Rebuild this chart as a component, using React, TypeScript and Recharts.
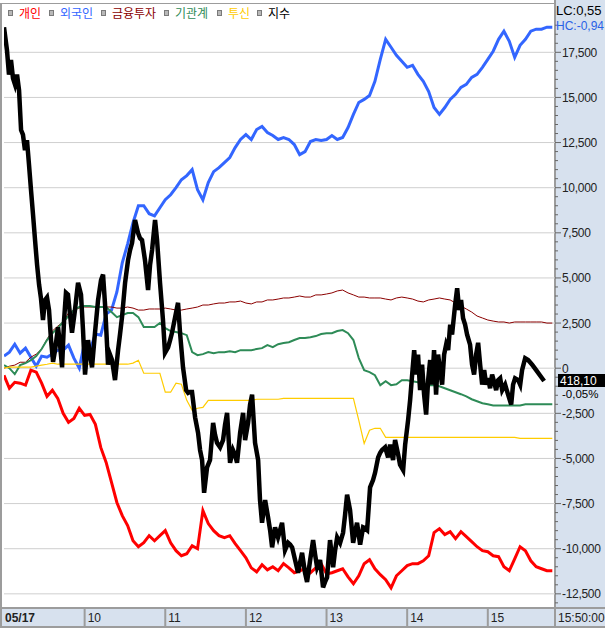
import React from 'react';
import { LineChart, Line, XAxis, YAxis, ReferenceLine } from 'recharts';

// ---- data (minutes after 09:00) ----
const flowTimes = [0, 4, 8, 12, 16, 20, 24, 28, 32, 36, 40, 44, 48, 52, 56, 60, 64, 68, 72, 76, 80, 84, 88, 92, 96, 100, 104, 108, 112, 116, 120, 124, 128, 132, 136, 140, 144, 148, 152, 156, 160, 164, 168, 172, 176, 180, 184, 188, 192, 196, 200, 204, 208, 212, 216, 220, 224, 228, 232, 236, 240, 244, 248, 252, 256, 260, 264, 268, 272, 276, 280, 284, 288, 292, 296, 300, 304, 308, 312, 316, 320, 324, 328, 332, 336, 340, 344, 348, 352, 356, 360, 364, 368, 372, 376, 380, 384, 388, 392, 396, 400, 404, 408];

// 개인
const retail = [
  -390, -1110, -780, -830, -940, -110, -220, -830, -1560, -1220,
  -1670, -2500, -3000, -2780, -2220, -2610, -2560, -3110, -4390, -5220,
  -6330, -7440, -8170, -8720, -9560, -9890, -9670, -9280, -9560, -9280,
  -9000, -9670, -10110, -10390, -10280, -9830, -10000, -7890, -8610, -9000,
  -9280, -9390, -9280, -9720, -10110, -10500, -11060, -11280, -10890, -11170,
  -11000, -11220, -10830, -11060, -11330, -11220, -11110, -11330, -11060, -10830,
  -11390, -11330, -11220, -11110, -11560, -11940, -11500, -10830, -10610, -11110,
  -11440, -11720, -12170, -11500, -11220, -10940, -10830, -10830, -10670, -10390,
  -9110, -8890, -9220, -9060, -9440, -9060, -9330, -9610, -9890, -10110,
  -10170, -10390, -10440, -11000, -11220, -10560, -9890, -10110, -10670, -11000,
  -11110, -11220, -11220,
];

// 외국인
const foreign = [
  670, 890, 1330, 830, 1110, 610, 110, 670, 610, 780,
  1000, 1000, 1280, 560, 0, 1440, 1000, 1890, 1830, 3000,
  3220, 4220, 5830, 6890, 8060, 9000, 9000, 8560, 8440, 8890,
  9330, 9610, 10000, 10440, 10670, 11000, 9890, 9330, 10280, 10890,
  11110, 11390, 11670, 12220, 12670, 12940, 12670, 13220, 13390, 13060,
  12890, 12670, 12780, 12670, 12390, 11830, 12000, 12560, 12670, 12610,
  12670, 12890, 12670, 12780, 13330, 14060, 14720, 14890, 15110, 15890,
  17110, 18220, 17780, 17330, 17000, 16670, 16780, 16280, 15890, 15330,
  14440, 14060, 14440, 14890, 15170, 15560, 15720, 16110, 16280, 16670,
  17110, 17560, 18220, 18670, 18110, 17220, 17890, 18220, 18670, 18780,
  18780, 18890, 18890,
];

// 금융투자
const finInv = [
  0, 110, 170, 330, 330, 610, 780, 1060, 1610, 2060,
  2330, 2560, 3060, 3220, 3330, 3390, 3390, 3390, 3390, 3390,
  3390, 3330, 3330, 3390, 3330, 3220, 3220, 3280, 3280, 3280,
  3330, 3280, 3220, 3220, 3280, 3330, 3390, 3500, 3500, 3560,
  3610, 3610, 3670, 3670, 3720, 3610, 3560, 3670, 3670, 3780,
  3780, 3830, 3890, 3890, 3940, 4000, 3940, 3940, 4060, 4060,
  4110, 4170, 4280, 4330, 4170, 4060, 3940, 3940, 3890, 3890,
  3890, 3830, 3780, 3890, 3940, 3890, 3830, 3720, 3670, 3780,
  3830, 3890, 3830, 3780, 3610, 3440, 3280, 3110, 2890, 2780,
  2670, 2610, 2560, 2560, 2500, 2560, 2560, 2560, 2560, 2560,
  2560, 2500, 2500,
];

// 기관계
const inst = [
  170, 0, -330, 170, 280, 440, 670, 1060, 1560, 1940,
  2220, 2560, 2890, 3220, 3390, 3440, 3440, 3390, 3390, 3390,
  3110, 2830, 2940, 3060, 3060, 2830, 2280, 2280, 2280, 2500,
  2220, 2060, 2000, 1940, 1830, 890, 720, 780, 890, 830,
  890, 890, 940, 890, 1000, 1000, 1000, 1060, 1110, 1280,
  1170, 1330, 1390, 1440, 1560, 1670, 1670, 1720, 1780, 1890,
  1940, 1940, 2060, 2110, 1940, 1560, 560, -110, -220, -390,
  -940, -720, -940, -890, -670, -670, -720, -780, -830, -940,
  -940, -1000, -1110, -1220, -1330, -1440, -1560, -1720, -1830, -1940,
  -2000, -2060, -2060, -2060, -2060, -2060, -2060, -2000, -2000, -2000,
  -2000, -2000, -2000,
];

// 투신
const trust = [
  0, 60, 60, 60, 60, 60, 110, 170, 220, 280,
  220, 220, 220, 220, 220, 220, 220, 220, 220, 220,
  220, 220, 220, 220, 280, 440, -280, -280, -280, -280,
  -1330, -1330, -830, -890, -1780, -2330, -2220, -2170, -1780, -1780,
  -1780, -1780, -1780, -1780, -1780, -1780, -1780, -1720, -1720, -1720,
  -1720, -1720, -1670, -1670, -1670, -1670, -1670, -1670, -1670, -1670,
  -1670, -1670, -1670, -1670, -1670, -1670, -2890, -4170, -3440, -3330,
  -3330, -3830, -3830, -3830, -3830, -3830, -3830, -3830, -3830, -3830,
  -3830, -3830, -3830, -3830, -3830, -3830, -3830, -3830, -3830, -3830,
  -3830, -3830, -3830, -3830, -3830, -3830, -3890, -3890, -3890, -3890,
  -3890, -3890, -3890,
];

// 지수
const indexTimes = [
  0, 2.2, 3.7, 5.2, 6.7, 8.2, 9.7, 11.2, 12.7, 14.1, 15.6, 17.1, 18.6, 20.1, 21.6, 23.1, 24.6, 26.1, 27.5, 29.0,
  30.5, 32.0, 33.5, 35.0, 36.5, 38.0, 40.2, 41.7, 43.2, 44.7, 46.1, 47.6, 49.1, 50.6, 52.8, 55.1, 57.3, 58.8, 60.3, 62.5,
  64.0, 65.5, 67.7, 70.0, 72.2, 73.7, 75.2, 77.4, 78.9, 80.4, 82.6, 84.9, 86.3, 87.8, 90.1, 92.3, 93.8, 95.3, 97.5, 99.7,
  101.2, 102.7, 104.9, 107.2, 108.7, 110.2, 112.4, 113.9, 116.1, 118.3, 119.8, 122.1, 123.6, 125.0, 127.3, 129.5, 131.0, 133.2, 135.5, 137.0,
  138.4, 139.9, 142.2, 144.4, 145.9, 147.4, 148.9, 151.1, 153.3, 155.6, 157.0, 158.5, 160.8, 163.0, 164.5, 166.0, 168.2, 170.4, 171.9, 173.4,
  175.7, 177.9, 179.4, 181.6, 183.1, 184.6, 186.8, 189.1, 190.5, 192.0, 194.3, 196.5, 198.0, 199.5, 201.7, 203.9, 205.4, 206.9, 209.1, 211.4,
  212.9, 214.4, 216.6, 218.8, 220.3, 221.8, 224.0, 225.5, 227.8, 230.0, 231.5, 233.0, 235.2, 237.4, 238.9, 240.4, 242.6, 244.9, 246.4, 247.9,
  250.1, 252.3, 253.8, 255.3, 257.5, 259.8, 261.2, 262.7, 265.0, 267.2, 268.7, 270.2, 272.4, 274.6, 276.1, 278.4, 279.9, 281.3, 283.6, 285.8,
  287.3, 289.5, 291.0, 293.3, 294.7, 297.0, 298.5, 300.7, 302.2, 303.7, 305.2, 306.7, 308.1, 309.6, 311.1, 312.6, 314.1, 315.6, 317.1, 318.6,
  320.0, 321.5, 323.0, 324.5, 326.0, 327.5, 329.0, 330.5, 332.0, 333.4, 335.7, 337.2, 338.7, 340.1, 341.6, 343.1, 344.6, 346.8, 348.3, 349.8,
  351.3, 352.8, 354.3, 355.8, 357.3, 358.8, 360.2, 361.7, 363.2, 364.7, 366.2, 367.7, 369.2, 370.7, 372.9, 375.1, 377.4, 378.8, 380.3, 382.6,
  384.1, 385.5, 387.8, 390.0, 393.0, 396.0, 398.9, 401.9,
];
const indexValues = [
  421.99, 421.74, 421.47, 421.63, 421.43, 421.36, 421.47, 421.30, 420.86, 420.81, 420.64, 420.75, 420.48, 420.20, 419.93, 419.65, 419.38, 419.16, 419.01, 418.77,
  418.99, 419.02, 418.88, 418.55, 418.31, 418.44, 418.69, 418.50, 418.25, 418.77, 419.07, 419.05, 418.83, 418.63, 418.88, 419.18, 419.05, 418.66, 418.17, 418.55,
  418.39, 418.25, 418.63, 418.99, 419.21, 419.27, 418.94, 418.28, 418.39, 418.33, 418.11, 418.44, 418.61, 418.80, 419.18, 419.43, 419.54, 419.62, 419.87, 419.73,
  419.67, 419.65, 419.43, 419.10, 419.38, 419.54, 419.87, 419.65, 419.18, 418.77, 418.41, 418.47, 418.55, 418.63, 418.80, 418.96, 418.63, 418.25, 418.00, 417.97,
  417.98, 417.98, 417.70, 417.53, 417.34, 417.23, 416.87, 417.15, 417.23, 417.64, 417.51, 417.42, 417.37, 417.45, 417.62, 417.75, 417.20, 417.34, 417.29, 417.20,
  417.53, 417.75, 417.45, 417.64, 417.84, 417.95, 417.42, 417.23, 416.79, 416.54, 416.79, 416.60, 416.46, 416.27, 416.49, 416.38, 416.46, 416.54, 416.24, 416.32,
  416.30, 416.27, 416.13, 415.99, 416.10, 416.21, 415.99, 415.89, 416.13, 416.35, 416.19, 416.05, 416.13, 415.83, 415.89, 415.94, 416.35, 416.05, 416.24, 416.38,
  416.32, 416.43, 416.63, 416.85, 416.68, 416.32, 416.43, 416.54, 416.30, 416.49, 416.48, 416.46, 416.93, 417.01, 417.09, 417.26, 417.31, 417.34, 417.37, 417.26,
  417.40, 417.23, 417.45, 417.29, 417.18, 417.12, 417.40, 417.67, 417.89, 418.17, 418.44, 418.17, 418.39, 418.00, 418.28, 417.95, 417.73, 418.11, 418.33, 418.06,
  418.44, 417.95, 418.39, 418.22, 418.06, 418.39, 418.50, 418.44, 418.72, 418.61, 418.94, 419.12, 418.88, 418.99, 418.79, 418.72, 418.61, 418.50, 418.28, 418.17,
  418.39, 418.52, 418.28, 418.06, 418.22, 418.06, 418.13, 418.02, 418.17, 418.09, 418.00, 418.11, 418.13, 418.00, 418.06, 417.95, 417.84, 418.06, 418.13, 418.11,
  418.06, 418.22, 418.35, 418.33, 418.28, 418.22, 418.16, 418.10,
];

const seriesNames = ['개인', '외국인', '금융투자', '기관계', '투신', '지수'];
const seriesColors = ['#ff0000', '#3366ff', '#8b0000', '#2e8b57', '#ffcc00', '#000000'];

const hourTicks = [0, 60, 120, 180, 240, 300, 360, 410];
const hourLabels = ['05/17', '10', '11', '12', '13', '14', '15', '15:50:00'];
const flowMajorTicks = [-12500, -10000, -7500, -5000, -2500, 0, 2500, 5000, 7500, 10000, 12500, 15000, 17500];
const flowMinorTicks = Array.from({ length: 65 }, (_, i) => -13000 + i * 500);

const lowText = 'LC:0,55';
const highText = 'HC:-0,94';
const changeText = '-0,05%';

// ---- layout ----
const W = 605;
const H = 631;
const PLOT_LEFT = 4;
const PLOT_RIGHT = 555;
const PLOT_TOP = 22;
const PLOT_BOTTOM = 608;
const PANEL = '#d7e1ee';
const BORDER = '#9c9c9c';
const NUM_FONT = '"Liberation Sans", Arial, sans-serif';
const KR_FONT = '"Noto Sans CJK KR", "Noto Sans", sans-serif';

const flowDomain: [number, number] = [-13285, 19179];
const indexDomain: [number, number] = [415.603, 422.049];

const flowData = flowTimes.map((t, i) => ({
  t,
  retail: retail[i],
  foreign: foreign[i],
  finInv: finInv[i],
  inst: inst[i],
  trust: trust[i],
}));
const indexData = indexTimes.map((t, i) => ({ t, idx: indexValues[i] }));
const lastIndex = indexValues[indexValues.length - 1];

const legendX = [8, 49, 101, 164, 217, 257];

function XTick(props: any) {
  const { x, payload } = props;
  const v = payload.value;
  const label = hourLabels[hourTicks.indexOf(v)];
  if (v === 0) {
    return (
      <text x={x + 1} y={622} fontSize={12} fontWeight="bold" fill="#222" fontFamily={NUM_FONT}>
        {label}
      </text>
    );
  }
  return (
    <g>
      <line x1={x} x2={x} y1={PLOT_BOTTOM} y2={627} stroke={BORDER} strokeWidth={2} />
      <text x={x + 3} y={622} fontSize={12} fill="#222" fontFamily={NUM_FONT}>
        {label}
      </text>
    </g>
  );
}

function YTick(props: any) {
  const { y, payload } = props;
  const v = payload.value;
  const major = v % 2500 === 0;
  return (
    <g>
      <line x1={PLOT_RIGHT} x2={PLOT_RIGHT + (major ? 6 : 3)} y1={y} y2={y} stroke="#666" strokeWidth={1} />
      {major && (
        <text x={PLOT_RIGHT + 7} y={y + 4.5} fontSize={12} fill="#222" fontFamily={NUM_FONT} letterSpacing={-0.3}>
          {v.toLocaleString('en-US')}
        </text>
      )}
    </g>
  );
}

function IndexTag(props: any) {
  const vb = props.viewBox || {};
  const y = vb.y ?? 0;
  return (
    <g>
      <rect x={PLOT_RIGHT + 3} y={y - 7} width={50} height={13} fill="#000" />
      <text x={PLOT_RIGHT + 5} y={y + 4} fontSize={12} fill="#fff" fontFamily={NUM_FONT}>
        {lastIndex.toFixed(2).replace('.', ',')}
      </text>
      <text x={PLOT_RIGHT + 7} y={y + 17} fontSize={11.5} fill="#000" fontFamily={NUM_FONT}>
        {changeText}
      </text>
    </g>
  );
}

export default function App() {
  return (
    <div
      style={{
        position: 'absolute',
        left: 0,
        top: 0,
        width: W,
        height: H,
        background: '#fff',
        overflow: 'hidden',
        fontFamily: NUM_FONT,
      }}
    >
      {/* panels */}
      <div style={{ position: 'absolute', left: PLOT_RIGHT, top: 0, width: W - PLOT_RIGHT, height: PLOT_BOTTOM, background: PANEL }} />
      <div style={{ position: 'absolute', left: 0, top: PLOT_BOTTOM, width: W, height: 19, background: PANEL }} />
      {/* borders */}
      <div style={{ position: 'absolute', left: PLOT_RIGHT - 1, top: 0, width: 2, height: PLOT_BOTTOM, background: BORDER }} />
      <div style={{ position: 'absolute', left: 0, top: PLOT_BOTTOM - 1, width: W, height: 2, background: BORDER }} />
      <div style={{ position: 'absolute', left: 0, top: 626, width: W, height: 2, background: BORDER }} />
      <div style={{ position: 'absolute', left: 0, top: 3, width: 2, height: 624, background: BORDER }} />
      <div style={{ position: 'absolute', left: 0, top: 3, width: PLOT_RIGHT, height: 1, background: BORDER }} />

      <div style={{ position: 'absolute', left: 0, top: 0 }}>
        <LineChart width={W} height={H} margin={{ top: PLOT_TOP, right: 0, bottom: 0, left: PLOT_LEFT }}>
          <XAxis
            dataKey="t"
            type="number"
            domain={[0, 410]}
            ticks={hourTicks}
            interval={0}
            height={H - PLOT_BOTTOM}
            axisLine={false}
            tickLine={false}
            tick={<XTick />}
            allowDataOverflow
          />
          <YAxis
            yAxisId="flow"
            orientation="right"
            width={W - PLOT_RIGHT}
            domain={flowDomain}
            ticks={flowMinorTicks}
            interval={0}
            axisLine={false}
            tickLine={false}
            tick={<YTick />}
            allowDataOverflow
          />
          <YAxis yAxisId="idx" orientation="left" hide width={0} domain={indexDomain} allowDataOverflow />
          {flowMajorTicks.map((v) => (
            <ReferenceLine key={v} yAxisId="flow" y={v} stroke="#cfcfcf" strokeWidth={1} />
          ))}
          <Line data={flowData} dataKey="foreign" name={seriesNames[1]} yAxisId="flow" stroke={seriesColors[1]} strokeWidth={3} dot={false} activeDot={false} isAnimationActive={false} />
          <Line data={flowData} dataKey="retail" name={seriesNames[0]} yAxisId="flow" stroke={seriesColors[0]} strokeWidth={3} dot={false} activeDot={false} isAnimationActive={false} />
          <Line data={flowData} dataKey="finInv" name={seriesNames[2]} yAxisId="flow" stroke={seriesColors[2]} strokeWidth={1} dot={false} activeDot={false} isAnimationActive={false} />
          <Line data={flowData} dataKey="inst" name={seriesNames[3]} yAxisId="flow" stroke={seriesColors[3]} strokeWidth={2} dot={false} activeDot={false} isAnimationActive={false} />
          <Line data={flowData} dataKey="trust" name={seriesNames[4]} yAxisId="flow" stroke={seriesColors[4]} strokeWidth={1.2} dot={false} activeDot={false} isAnimationActive={false} />
          <Line data={indexData} dataKey="idx" name={seriesNames[5]} yAxisId="idx" stroke={seriesColors[5]} strokeWidth={4.5} dot={false} activeDot={false} isAnimationActive={false} />
          <ReferenceLine yAxisId="idx" y={lastIndex} stroke="none" label={(p: any) => <IndexTag {...p} />} />
        </LineChart>
      </div>

      {/* legend */}
      {seriesNames.map((name, i) => (
        <React.Fragment key={name}>
          <div
            style={{
              position: 'absolute',
              left: legendX[i],
              top: 10,
              width: 3,
              height: 4,
              background: '#b8b8b8',
              border: '1px solid #7a7a7a',
            }}
          />
          <div
            style={{
              position: 'absolute',
              left: legendX[i] + 11,
              top: 4,
              fontSize: 12,
              lineHeight: '18px',
              color: seriesColors[i],
              fontFamily: KR_FONT,
              whiteSpace: 'nowrap',
            }}
          >
            {name}
          </div>
        </React.Fragment>
      ))}

      {/* LC / HC */}
      <div style={{ position: 'absolute', left: 556, top: 3, fontSize: 13, lineHeight: '16px', color: '#000', whiteSpace: 'nowrap' }}>{lowText}</div>
      <div style={{ position: 'absolute', left: 556, top: 18, fontSize: 12, lineHeight: '16px', color: '#2a62e6', whiteSpace: 'nowrap' }}>{highText}</div>
    </div>
  );
}
